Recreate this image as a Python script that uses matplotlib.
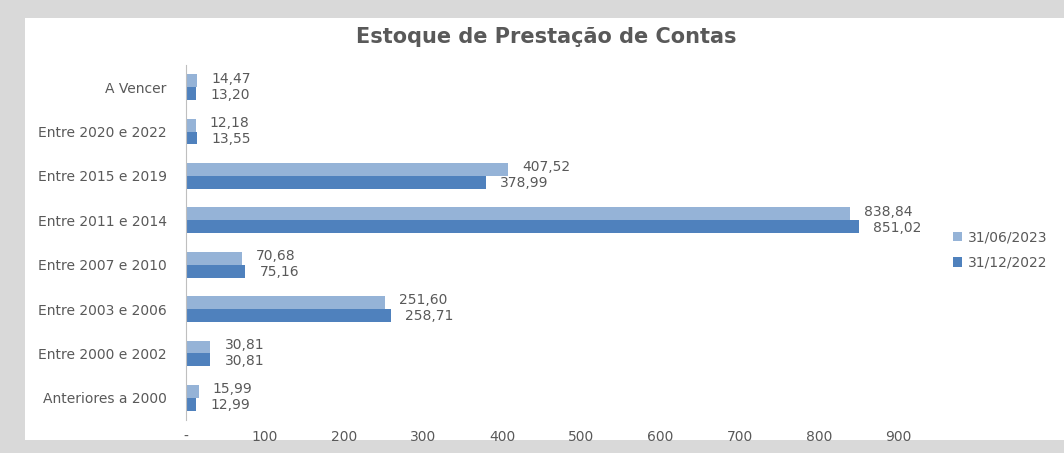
import matplotlib.pyplot as plt
from matplotlib.patches import Rectangle
import numpy as np

categories = ["A Vencer", "Entre 2020 e 2022", "Entre 2015 e 2019", "Entre 2011 e 2014",
              "Entre 2007 e 2010", "Entre 2003 e 2006", "Entre 2000 e 2002", "Anteriores a 2000"]
jun_2023 = [14.47, 12.18, 407.52, 838.84, 70.68, 251.60, 30.81, 15.99]
dez_2022 = [13.20, 13.55, 378.99, 851.02, 75.16, 258.71, 30.81, 12.99]
series_names = ["31/06/2023", "31/12/2022"]
xticks = [0, 100, 200, 300, 400, 500, 600, 700, 800, 900]

light = "#95b3d7"
dark = "#4f81bd"
txt = "#595959"
plt.rcParams['font.family'] = ['DejaVu Sans']

fig = plt.figure(figsize=(10.64, 4.53), dpi=100)
fig.patch.set_facecolor("#d9d9d9")
fig.patches.append(Rectangle((25/1064, 1-440/453), 1.0, (440-18)/453,
                             transform=fig.transFigure, facecolor="white", edgecolor="none", zorder=-10))

ax = fig.add_axes([186/1064, 1-420/453, 712/1064, 355/453])
ax.set_facecolor("none")
ax.set_zorder(1)

y = np.arange(len(categories))
h = 0.29
ax.barh(y - h/2, jun_2023, height=h, color=light, label=series_names[0])
ax.barh(y + h/2, dez_2022, height=h, color=dark, label=series_names[1])

def fmt(v):
    return f"{v:,.2f}".replace(",", "X").replace(".", ",").replace("X", ".")

for i in range(len(categories)):
    ax.text(jun_2023[i] + 18, y[i] - h/2 - 0.05, fmt(jun_2023[i]), va="center", ha="left",
            fontsize=10, color=txt)
    ax.text(dez_2022[i] + 18, y[i] + h/2 + 0.02, fmt(dez_2022[i]), va="center", ha="left",
            fontsize=10, color=txt)

ax.set_ylim(len(categories) - 0.5, -0.5)
ax.set_xlim(0, 900)
ax.set_yticks(y)
ax.set_yticklabels(categories, fontsize=10, color=txt)
ax.set_xticks(xticks)
ax.set_xticklabels(["-"] + [str(t) for t in xticks[1:]], fontsize=10, color=txt)
ax.tick_params(axis="both", length=0)
ax.tick_params(axis="x", pad=7)
ax.tick_params(axis="y", pad=14)
for s in ["top", "right", "bottom"]:
    ax.spines[s].set_visible(False)
ax.spines["left"].set_color("#bfbfbf")

fig.text(546/1064, 1-37/453, "Estoque de Prestação de Contas", ha="center", va="center",
         fontsize=15, fontweight="bold", color=txt)

fig.legend(loc="center left", bbox_to_anchor=(940/1064, 1-250/453), frameon=False,
           fontsize=10, labelcolor=txt, handlelength=0.7, handleheight=0.7,
           handletextpad=0.4, labelspacing=0.8)

fig.savefig("out.png", dpi=100)
